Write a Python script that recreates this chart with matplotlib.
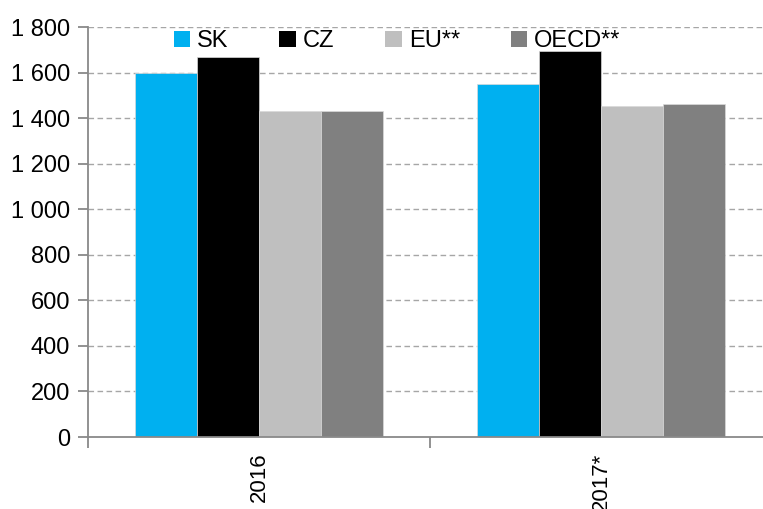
import numpy as np
import matplotlib
matplotlib.use("Agg")
import matplotlib.pyplot as plt
from matplotlib.ticker import FuncFormatter, FixedLocator

plt.rcParams['font.family'] = ['Liberation Sans Narrow', 'Liberation Sans', 'DejaVu Sans']

#*************** DATA ******************#
years = ["2016", "2017*"]
series = ["SK", "CZ", "EU**", "OECD**"]
sk = [1600, 1551]
cz = [1668, 1693]
eu = [1430, 1452]
oecd = [1433, 1463]
colors = ["#00B0F0", "#000000", "#BFBFBF", "#808080"]

values = [sk, cz, eu, oecd]
fig = plt.figure(figsize=(7.63, 5.09), dpi=100)
ax = fig.add_axes([88/763, 72/509, 684/763, 410/509])

x = np.arange(len(years))
w = 0.182
for i, (vals, name, col) in enumerate(zip(values, series, colors)):
    ax.bar(x + (i - 1.5)*w, vals, width=w, color=col, label=name,
           edgecolor="#D9D9D9", linewidth=0.5, zorder=3)

ax.set_xlim(-0.5, 1.5)
ax.set_ylim(0, 1800)
ax.set_yticks(np.arange(0, 1801, 200))
ax.yaxis.set_major_formatter(FuncFormatter(lambda v, p: f"{int(v):,}".replace(",", " ")))

# category labels centred, ticks on the boundaries
ax.xaxis.set_major_locator(FixedLocator([-0.5, 0.5, 1.5]))
ax.xaxis.set_major_formatter(FuncFormatter(lambda v, p: ""))
ax.xaxis.set_minor_locator(FixedLocator(x))
ax.set_xticklabels(years, minor=True, rotation=90)
ax.tick_params(axis="x", which="minor", length=0, pad=11, labelsize=16)
ax.tick_params(axis="x", which="major", length=8, color="#898989", width=1.3)
ax.tick_params(axis="y", length=7, color="#898989", width=1.3, labelsize=17, pad=6)

for g in np.arange(200, 1801, 200):
    ax.axhline(g, color="#A6A6A6", linestyle=(0, (4, 2.5)), linewidth=1.0, zorder=1)

for s in ["top", "right"]:
    ax.spines[s].set_visible(False)
for s in ["left", "bottom"]:
    ax.spines[s].set_color("#898989")
    ax.spines[s].set_linewidth(1.3)
    ax.spines[s].set_zorder(4)

leg = ax.legend(loc="upper center", bbox_to_anchor=(0.452, 1.015), ncol=4, frameon=False,
                fontsize=17, handlelength=0.7, handleheight=0.7, handletextpad=0.3,
                columnspacing=2.15, borderaxespad=0)
for h in leg.legend_handles:
    h.set_edgecolor("none")

fig.savefig("out.png", dpi=100)
